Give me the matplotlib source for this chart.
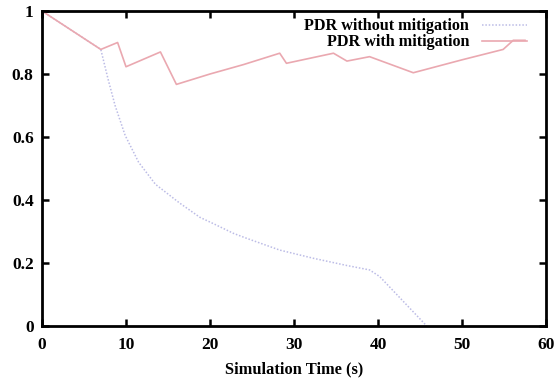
import matplotlib
matplotlib.use("Agg")
import matplotlib.pyplot as plt

# Data
t_without = [0, 7.0, 7.9, 8.7, 9.9, 11.5, 13.5, 16.4, 18.8, 20.4, 22.8, 24.4, 28.3, 32.3, 36.3, 39.0, 40.2, 45.8]
pdr_without = [1.0, 0.878, 0.78, 0.70, 0.605, 0.52, 0.45, 0.39, 0.345, 0.325, 0.294, 0.278, 0.241, 0.215, 0.192, 0.178, 0.157, 0.0]

t_with = [0, 7.0, 9.0, 10.0, 14.1, 16.0, 20.0, 24.0, 28.3, 29.1, 34.7, 36.3, 39.0, 44.2, 50.0, 54.9, 56.1, 57.5]
pdr_with = [1.0, 0.878, 0.90, 0.823, 0.870, 0.767, 0.80, 0.83, 0.866, 0.834, 0.866, 0.841, 0.855, 0.804, 0.845, 0.878, 0.907, 0.907]

x_ticks = [0, 10, 20, 30, 40, 50, 60]
y_ticks = [0, 0.2, 0.4, 0.6, 0.8, 1.0]
y_ticklabels = ["0", "0.2", "0.4", "0.6", "0.8", "1"]

plt.rcParams["font.family"] = ["Liberation Serif", "DejaVu Serif"]
plt.rcParams["font.weight"] = "bold"

fig = plt.figure(figsize=(5.58, 3.80), dpi=100)
ax = fig.add_axes([42/558, 54/380, 504/558, 315/380])

ax.plot(t_without, pdr_without, color="#bcbce6", lw=1.1, linestyle=(0, (1, 1.2)),
        label="PDR without mitigation")
ax.plot(t_with, pdr_with, color="#eaa8b0", lw=1.2, linestyle="-",
        label="PDR with mitigation")

ax.set_xlim(0, 60)
ax.set_ylim(0, 1)
ax.set_xticks(x_ticks)
ax.set_yticks(y_ticks)
ax.set_yticklabels(y_ticklabels)
ax.tick_params(direction="in", length=5, width=1.8, top=True, right=True,
               labelsize=12.5)
ax.tick_params(axis="x", pad=8)
ax.tick_params(axis="y", pad=6)
for lab in ax.get_xticklabels() + ax.get_yticklabels():
    lab.set_fontweight("bold")
for s in ax.spines.values():
    s.set_linewidth(2)

ax.set_xlabel("Simulation Time (s)", fontsize=11.8, fontweight="bold", labelpad=6)

leg = ax.legend(loc="upper right", bbox_to_anchor=(0.985, 1.013), frameon=False,
                markerfirst=False, handlelength=2.8, handletextpad=0.8,
                fontsize=11.6, labelspacing=0.0, borderaxespad=0.3)
for txt in leg.get_texts():
    txt.set_fontweight("bold")

fig.savefig("out.png", dpi=100)
